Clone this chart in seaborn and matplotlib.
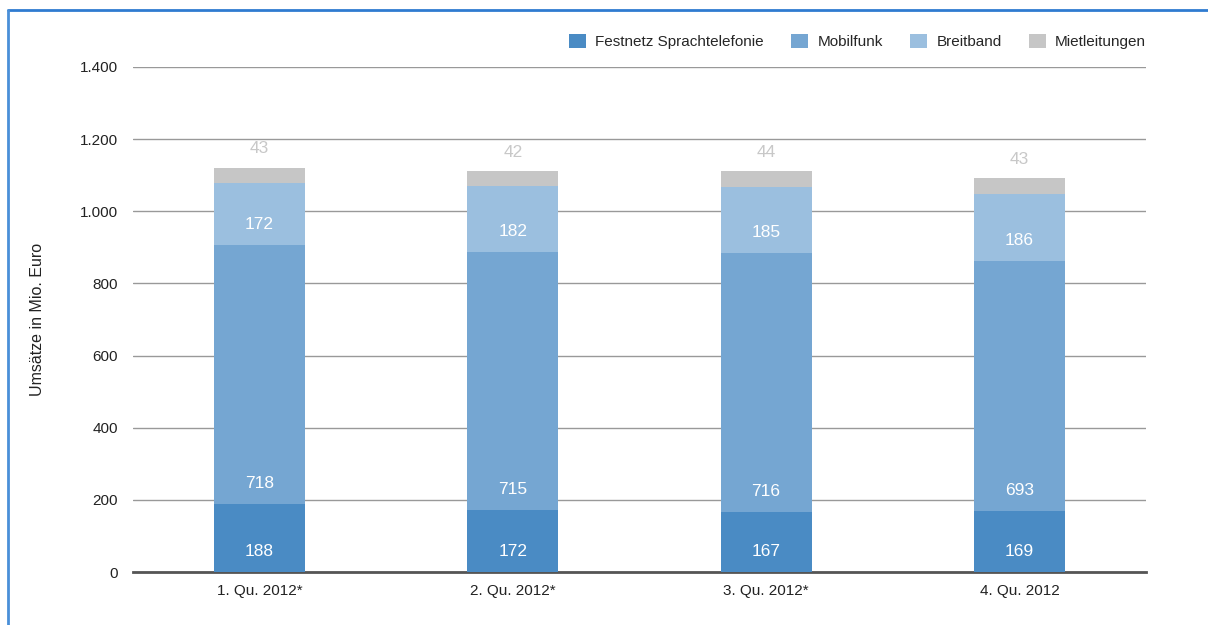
import matplotlib
matplotlib.use('Agg')
import matplotlib.pyplot as plt
from matplotlib.lines import Line2D
from matplotlib.ticker import FuncFormatter
import seaborn as sns
import numpy as np
import pandas as pd

quarters = ['1. Qu. 2012*', '2. Qu. 2012*', '3. Qu. 2012*', '4. Qu. 2012']
festnetz = [188, 172, 167, 169]
mobilfunk = [718, 715, 716, 693]
breitband = [172, 182, 185, 186]
mietleitungen = [43, 42, 44, 43]

series = [
    ('Festnetz Sprachtelefonie', festnetz, '#4a8bc4'),
    ('Mobilfunk', mobilfunk, '#75a6d2'),
    ('Breitband', breitband, '#9bbfdf'),
    ('Mietleitungen', mietleitungen, '#c6c6c6'),
]

sns.set_style('white')
plt.rcParams['font.family'] = ['Liberation Sans', 'DejaVu Sans']

fig = plt.figure(figsize=(12.08, 6.25), dpi=100)
ax = fig.add_axes([133 / 1208, 53 / 625, 1013 / 1208, 505 / 625])

bottom = np.zeros(len(quarters))
for name, vals, col in series:
    sns.barplot(x=quarters, y=vals, bottom=bottom, color=col, width=0.36,
                errorbar=None, ax=ax, label=name, saturation=1, linewidth=0,
                zorder=3)
    vals = np.array(vals)
    for i, v in enumerate(vals):
        if name == 'Mietleitungen':
            ax.text(i, bottom[i] + v + 52, str(v), ha='center', va='center',
                    color='#c8c8c8', fontsize=12.5)
        else:
            ax.text(i, bottom[i] + 57, str(v), ha='center', va='center',
                    color='white', fontsize=12.5, zorder=4)
    bottom = bottom + vals

ax.set_xlim(-0.5, 3.5)
ax.set_ylim(0, 1400)
ax.set_yticks(range(0, 1401, 200))
ax.yaxis.set_major_formatter(FuncFormatter(lambda v, p: f'{int(v):,}'.replace(',', '.')))
ax.yaxis.grid(True, color='#999999', linewidth=1)
ax.set_axisbelow(True)
for s in ['top', 'right', 'left']:
    ax.spines[s].set_visible(False)
ax.spines['bottom'].set_color('#555555')
ax.spines['bottom'].set_linewidth(2)
ax.tick_params(axis='both', length=0, labelsize=11, colors='#222222')
ax.tick_params(axis='y', pad=11)
ax.tick_params(axis='x', pad=9)
ax.set_xlabel('')
ax.set_ylabel('Umsätze in Mio. Euro', fontsize=11.5, color='#222222')
ax.yaxis.set_label_coords(-88 / 1013, 0.5)

ax.legend(loc='lower right', bbox_to_anchor=(1.0, 1.035), ncol=4, frameon=False,
          fontsize=11, handlelength=1.1, handleheight=1.1, handletextpad=0.6,
          columnspacing=1.8, borderaxespad=0, borderpad=0)

fig.add_artist(Line2D([8 / 1208, 1], [1 - 10 / 625, 1 - 10 / 625], color='#2f7bd0', linewidth=2))
fig.add_artist(Line2D([8 / 1208, 8 / 1208], [0, 1 - 10 / 625], color='#4a8fd8', linewidth=2))

fig.savefig('out.png', dpi=100)
